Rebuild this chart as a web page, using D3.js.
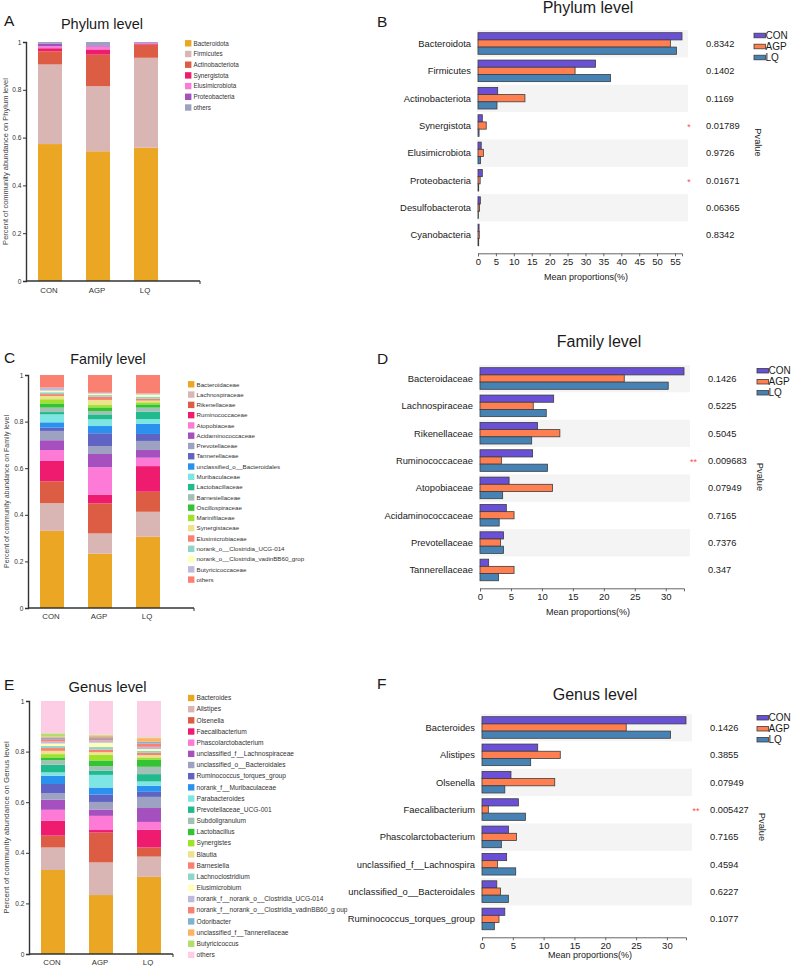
<!DOCTYPE html>
<html><head><meta charset="utf-8">
<script src="https://cdn.jsdelivr.net/npm/d3@7"></script>
<style>
body{margin:0;background:#fff}
svg{display:block}
text{font-family:"Liberation Sans",Arial,Helvetica,sans-serif}
</style>
</head><body>
<svg id="chart" width="791" height="966"></svg>
<script>
// ---------------- DATA ----------------
const groups = ["CON","AGP","LQ"];

// Panel A – phylum composition
const phylumTaxa = ["Bacteroidota","Firmicutes","Actinobacteriota","Synergistota","Elusimicrobiota","Proteobacteria","others"];
const phylumCON = [0.573,0.333,0.055,0.013,0.008,0.010,0.008];
const phylumAGP = [0.543,0.272,0.132,0.022,0.012,0.005,0.014];
const phylumLQ  = [0.558,0.376,0.054,0.003,0.004,0.001,0.004];

// Panel C – family composition
const familyTaxa = ["Bacteroidaceae","Lachnospiraceae","Rikenellaceae","Ruminococcaceae","Atopobiaceae","Acidaminococcaceae","Prevotellaceae","Tannerellaceae","unclassified_o__Bacteroidales","Muribaculaceae","Lactobacillaceae","Barnesiellaceae","Oscillospiraceae","Marinifilaceae","Synergistaceae","Elusimicrobiaceae","norank_o__Clostridia_UCG-014","norank_o__Clostridia_vadinBB60_grop","Butyricicoccaceae","others"];
const familyCON = [0.331,0.119,0.094,0.087,0.047,0.042,0.040,0.014,0.023,0.034,0.010,0.019,0.018,0.018,0.014,0.008,0.008,0.007,0.013,0.054];
const familyAGP = [0.233,0.087,0.129,0.038,0.117,0.057,0.034,0.055,0.031,0.029,0.021,0.014,0.016,0.010,0.022,0.014,0.007,0.006,0.004,0.076];
const familyLQ  = [0.306,0.107,0.086,0.110,0.036,0.033,0.039,0.030,0.043,0.021,0.032,0.017,0.014,0.009,0.007,0.008,0.009,0.009,0.005,0.079];

// Panel E – genus composition
const genusTaxa = ["Bacteroides","Alistipes","Olsenella","Faecalibacterium","Phascolarctobacterium","unclassified_f__Lachnospiraceae","unclassified_o__Bacteroidales","Ruminococcus_torques_group","norank_f__Muribaculaceae","Parabacteroides","Prevotellaceae_UCG-001","Subdoligranulum","Lactobacillus","Synergistes","Blautia","Barnesiella","Lachnoclostridium","Elusimicrobium","norank_f__norank_o__Clostridia_UCG-014","norank_f__norank_o__Clostridia_vadinBB60_g oup","Odoribacter","unclassified_f__Tannerellaceae","Butyricicoccus","others"];
const genusCON = [0.332,0.089,0.047,0.059,0.043,0.040,0.025,0.037,0.033,0.013,0.030,0.018,0.011,0.013,0.013,0.011,0.008,0.010,0.008,0.009,0.007,0.004,0.012,0.128];
const genusAGP = [0.233,0.129,0.118,0.010,0.056,0.025,0.030,0.029,0.028,0.050,0.017,0.017,0.023,0.022,0.011,0.010,0.010,0.017,0.009,0.006,0.007,0.007,0.003,0.133];
const genusLQ  = [0.305,0.080,0.036,0.070,0.031,0.055,0.044,0.020,0.024,0.017,0.029,0.029,0.029,0.008,0.009,0.009,0.008,0.007,0.009,0.013,0.007,0.014,0.003,0.144];

// Panel B – phylum mean proportions (%)
const phylumCats = ["Bacteroidota","Firmicutes","Actinobacteriota","Synergistota","Elusimicrobiota","Proteobacteria","Desulfobacterota","Cyanobacteria"];
const phylumMeanCON = [56.95,32.8,5.5,1.2,0.9,1.2,0.65,0.3];
const phylumMeanAGP = [53.7,27.1,13.1,2.3,1.5,0.6,0.45,0.35];
const phylumMeanLQ  = [55.4,37.0,5.3,0.3,0.7,0.2,0.1,0.2];
const phylumP   = ["0.8342","0.1402","0.1169","0.01789","0.9726","0.01671","0.06365","0.8342"];
const phylumSig = ["","","","*","","*","",""];

// Panel D – family mean proportions (%)
const familyCats = ["Bacteroidaceae","Lachnospiraceae","Rikenellaceae","Ruminococcaceae","Atopobiaceae","Acidaminococcaceae","Prevotellaceae","Tannerellaceae"];
const familyMeanCON = [32.95,11.9,9.3,8.5,4.7,4.25,3.8,1.4];
const familyMeanAGP = [23.3,8.6,12.9,3.45,11.7,5.5,3.3,5.5];
const familyMeanLQ  = [30.4,10.7,8.35,10.9,3.66,3.1,3.8,3.0];
const familyP   = ["0.1426","0.5225","0.5045","0.009683","0.07949","0.7165","0.7376","0.347"];
const familySig = ["","","","**","","","",""];

// Panel F – genus mean proportions (%)
const genusCats = ["Bacteroides","Alistipes","Olsenella","Faecalibacterium","Phascolarctobacterium","unclassified_f__Lachnospira","unclassified_o__Bacteroidales","Ruminococcus_torques_group"];
const genusMeanCON = [33.1,9.04,4.7,5.9,4.28,4.0,2.4,3.7];
const genusMeanAGP = [23.4,12.7,11.8,1.03,5.6,2.5,3.0,2.76];
const genusMeanLQ  = [30.6,7.9,3.7,7.04,3.14,5.47,4.28,2.0];
const genusP   = ["0.1426","0.3855","0.07949","0.005427","0.7165","0.4594","0.6227","0.1077"];
const genusSig = ["","","","**","","","",""];

const yTickValues = [0,0.2,0.4,0.6,0.8,1];

// ---------------- STYLES ----------------
const pal = ["#EBA724","#D9B6B4","#DC5D44","#EF1B6F","#FD7AD6","#A650BF","#9DA1C2","#5F63C4","#2A91EE","#7DE6E4","#20BA8D","#A3C0B6","#33C334","#A0E12A","#EDE38E","#FB8072","#8FD6C8","#FFFFB8","#BFBADB"];
const phylumColors = pal.slice(0,6).concat(["#9DA1C2"]);
const familyColors = pal.slice(0,19).concat(["#FA8072"]);
const genusColors  = pal.slice(0,19).concat(["#FB8072","#80B1D3","#FDB462","#B3DE69","#FCCDE5"]);
const groupColors = {CON:"#6A50D6", AGP:"#FF7F50", LQ:"#4682B4"};

const svg = d3.select("#chart");
const FONT = '"Liberation Sans",Arial,Helvetica,sans-serif';

function txt(g, x, y, s, size, anchor, color){
  return g.append("text").attr("x",x).attr("y",y).text(s)
    .style("font-size",size+"px").style("fill",color||"#1a1a1a")
    .attr("text-anchor",anchor||"start");
}

// ---------------- STACKED PANELS ----------------
function drawStack(o){
  const g = svg.append("g");
  const rows = groups.map((gr,i)=>{
    const r = {group:gr};
    o.taxa.forEach((t,j)=>{ r[t] = o.values[i][j]; });
    return r;
  });
  const x = d3.scaleBand().domain(groups).range([o.x0, o.x0+144]).paddingInner(0.5).paddingOuter(0.25);
  const y = d3.scaleLinear().domain([0,1]).range([o.yBot, o.yTop]);
  const series = d3.stack().keys(o.taxa)(rows);
  g.selectAll("g.s").data(series).join("g").attr("fill",(d,i)=>o.colors[i])
    .selectAll("rect").data(d=>d).join("rect")
    .attr("x",d=>x(d.data.group)).attr("width",x.bandwidth())
    .attr("y",d=>y(d[1])).attr("height",d=>Math.max(0,y(d[0])-y(d[1])));

  // y axis
  const ya = g.append("g").attr("transform",`translate(${o.x0},0)`)
    .call(d3.axisLeft(y).tickValues(yTickValues).tickSize(3).tickPadding(1.5)
      .tickFormat(d=> d===0?"0":(d===1?"1":d3.format(".1f")(d))));
  ya.selectAll("text").style("font-size","6.6px").style("font-family",FONT).style("fill","#333");
  ya.select(".domain").attr("stroke","#333").attr("stroke-width",1.4);
  ya.selectAll(".tick line").attr("stroke","#333").attr("stroke-width",1);
  // x axis
  g.append("line").attr("x1",o.x0).attr("x2",o.xEnd).attr("y1",o.yBot).attr("y2",o.yBot)
    .attr("stroke","#333").attr("stroke-width",1.4);
  g.append("line").attr("x1",o.xEnd).attr("x2",o.xEnd).attr("y1",o.yBot).attr("y2",o.yBot+3)
    .attr("stroke","#333").attr("stroke-width",1);
  groups.forEach(gr=>{
    txt(g, x(gr)+x.bandwidth()/2 - 1, o.yBot+o.labOff, gr, 7.8, "middle", "#333");
  });
  // y title
  g.append("text").attr("transform",`translate(${o.yTitleX},${(o.yTop+o.yBot)/2}) rotate(-90)`)
    .attr("text-anchor","middle").style("font-size",o.yTitleSize+"px").style("fill","#444").text(o.yTitle);
  // title + letter
  txt(g, o.titleX, o.titleY, o.title, o.titleSize, "middle");
  txt(g, 4, o.letterY, o.letter, 15.5, "start");
  // legend
  o.taxa.forEach((t,i)=>{
    const cy = o.legY + i*o.legStep;
    g.append("rect").attr("x",o.legX).attr("y",cy-3.2).attr("width",6.4).attr("height",6.4).attr("fill",o.colors[i]);
    txt(g, o.legX+8.5, cy+2.2, t, o.legFont, "start", "#333");
  });
}

drawStack({taxa:phylumTaxa, values:[phylumCON,phylumAGP,phylumLQ], colors:phylumColors,
  x0:26, xEnd:200, yTop:42, yBot:281, labOff:12,
  title:"Phylum level", titleX:102, titleY:29, titleSize:14.5, letter:"A", letterY:26,
  yTitle:"Percent of community abundance on Phylum level", yTitleX:7.5, yTitleSize:7.5,
  legX:185, legY:43.3, legStep:10.7, legFont:6.3});

drawStack({taxa:familyTaxa, values:[familyCON,familyAGP,familyLQ], colors:familyColors,
  x0:28, xEnd:194, yTop:375, yBot:608, labOff:11,
  title:"Family level", titleX:108, titleY:364, titleSize:14.3, letter:"C", letterY:363,
  yTitle:"Percent of community abundance on Family level", yTitleX:8.5, yTitleSize:7,
  legX:188, legY:384.3, legStep:10.28, legFont:6.2});

drawStack({taxa:genusTaxa, values:[genusCON,genusAGP,genusLQ], colors:genusColors,
  x0:29, xEnd:173, yTop:701, yBot:954, labOff:11,
  title:"Genus level", titleX:107.5, titleY:692, titleSize:14.8, letter:"E", letterY:690,
  yTitle:"Percent of community abundance on Genus level", yTitleX:8.5, yTitleSize:7.9,
  legX:188, legY:698, legStep:11.17, legFont:6.6});

// ---------------- HORIZONTAL BAR PANELS ----------------
function drawHBar(o){
  const g = svg.append("g");
  const vals = {CON:o.con, AGP:o.agp, LQ:o.lq};
  const xMax = d3.max([].concat(o.con,o.agp,o.lq));
  const x = d3.scaleLinear().domain([0,xMax]).range([o.x0, o.x0+204]);
  const rowH = 27.35;
  const y = d3.scaleBand().domain(o.cats).range([o.rowTop, o.rowTop+rowH*o.cats.length]);
  const sub = d3.scaleBand().domain(groups).range([2.7, 24.3]);

  // stripes
  g.selectAll("rect.stripe").data(o.cats.filter((c,i)=>i%2===0)).join("rect")
    .attr("x",o.x0-1).attr("width",211).attr("y",d=>y(d)).attr("height",y.bandwidth())
    .attr("fill","#F4F4F4");

  // bars
  o.cats.forEach((c,i)=>{
    groups.forEach(gr=>{
      g.append("rect").attr("x",x(0)).attr("y",y(c)+sub(gr))
        .attr("width",x(vals[gr][i])-x(0)).attr("height",sub.bandwidth())
        .attr("fill",groupColors[gr]).attr("stroke","#3c3c3c").attr("stroke-width",0.8);
    });
    const cy = y(c)+y.bandwidth()/2;
    txt(g, o.x0-7, cy+3.3, c, 9.4, "end");
    txt(g, o.pX, cy+3.3, o.pvals[i], 9.3, "start");
    if (o.sig[i]) txt(g, o.sX, cy+4.5, o.sig[i], 9, "middle", "#FF4B4B");
  });

  // x axis
  const axY = o.rowTop + rowH*o.cats.length + 4.5;
  const xa = g.append("g").attr("transform",`translate(0,${axY})`)
    .call(d3.axisBottom(x).tickValues(d3.range(0,xMax,5)).tickSize(3).tickSizeOuter(3).tickPadding(1.5).tickFormat(d3.format("d")));
  xa.selectAll("text").style("font-size","9.5px").style("font-family",FONT).style("fill","#1a1a1a");
  xa.select(".domain").attr("stroke","#666");
  xa.selectAll(".tick line").attr("stroke","#666");
  txt(g, o.x0+108, o.axTitleY, "Mean proportions(%)", 9, "middle");

  // title & letter
  txt(g, o.titleX, o.titleY, o.title, 16, "middle");
  txt(g, 377, o.letterY, o.letter, 15.5, "start");

  // Pvalue label
  g.append("text").attr("transform",`translate(${o.pvX},${o.pvY}) rotate(90)`)
    .attr("text-anchor","middle").attr("dy","0.35em").style("font-size","9.3px").style("fill","#1a1a1a").text("Pvalue");

  // legend
  groups.forEach((gr,i)=>{
    const cy = o.legY + i*11;
    g.append("rect").attr("x",o.legX).attr("y",cy-2.3).attr("width",11.5).attr("height",4.6)
      .attr("fill",groupColors[gr]).attr("stroke","#3c3c3c").attr("stroke-width",0.8);
    txt(g, o.legX+11.5, cy+3.6, gr, 10, "start");
  });
}

drawHBar({cats:phylumCats, con:phylumMeanCON, agp:phylumMeanAGP, lq:phylumMeanLQ, pvals:phylumP, sig:phylumSig,
  x0:478, rowTop:30, axTitleY:280, title:"Phylum level", titleX:588, titleY:12.5, letter:"B", letterY:27,
  pX:706, sX:689, pvX:758.5, pvY:142.5, legX:754, legY:35.5});

drawHBar({cats:familyCats, con:familyMeanCON, agp:familyMeanAGP, lq:familyMeanLQ, pvals:familyP, sig:familySig,
  x0:480, rowTop:365, axTitleY:615, title:"Family level", titleX:599, titleY:347, letter:"D", letterY:364,
  pX:708, sX:693.5, pvX:760, pvY:477, legX:757, legY:370.7});

drawHBar({cats:genusCats, con:genusMeanCON, agp:genusMeanAGP, lq:genusMeanLQ, pvals:genusP, sig:genusSig,
  x0:482, rowTop:714, axTitleY:957.5, title:"Genus level", titleX:595, titleY:700, letter:"F", letterY:689,
  pX:710, sX:696, pvX:762, pvY:827, legX:757, legY:717.7});
</script>
</body></html>
